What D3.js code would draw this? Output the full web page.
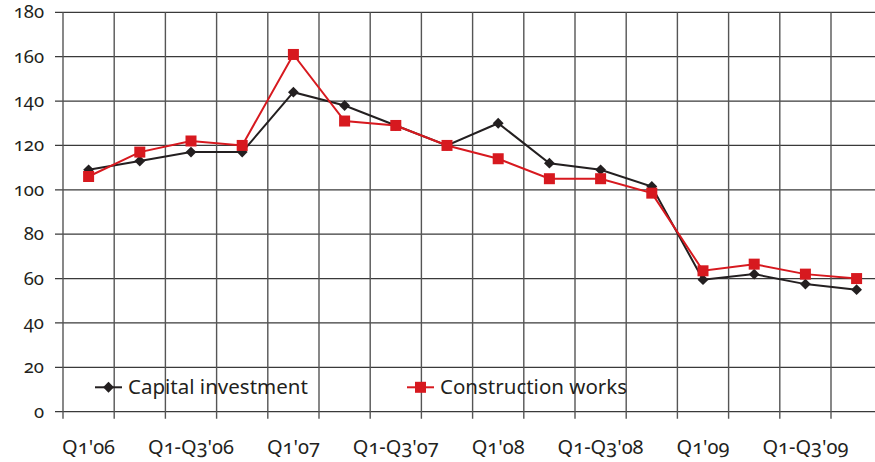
<!DOCTYPE html>
<html>
<head>
<meta charset="UTF-8">
<title>Capital investment vs construction works</title>
<script src="https://cdn.jsdelivr.net/npm/d3@7"></script>
<style>
  body { margin: 0; background: #fff; }
  text { font-family: "Noto Sans", sans-serif; font-variant-numeric: oldstyle-nums; fill: #231f20; }
</style>
</head>
<body>
<svg id="chart" width="875" height="462"></svg>
<script>
// quarters (cumulative), Q1'06 ... Q1-Q4'09
const categories = [
  "Q1'06", "Q1-Q2'06", "Q1-Q3'06", "Q1-Q4'06",
  "Q1'07", "Q1-Q2'07", "Q1-Q3'07", "Q1-Q4'07",
  "Q1'08", "Q1-Q2'08", "Q1-Q3'08", "Q1-Q4'08",
  "Q1'09", "Q1-Q2'09", "Q1-Q3'09", "Q1-Q4'09"
];
const capitalInvestment = [109, 113, 117, 117, 144, 138, 129, 120, 130, 112, 109, 101.5, 59.5, 62, 57.5, 55];
const constructionWorks = [106, 117, 122, 120, 161, 131, 129, 120, 114, 105, 105, 98.5, 63.5, 66.5, 62, 60];
const yTicks = [0, 20, 40, 60, 80, 100, 120, 140, 160, 180];
const xLabelled = ["Q1'06", "Q1-Q3'06", "Q1'07", "Q1-Q3'07", "Q1'08", "Q1-Q3'08", "Q1'09", "Q1-Q3'09"];

const svg = d3.select("#chart");
const plotLeft = 63, plotTop = 12.3, plotBottom = 411.7, bandW = 51.2;

const x = d3.scaleBand()
  .domain(categories)
  .range([plotLeft, plotLeft + bandW * categories.length])
  .padding(0);
const y = d3.scaleLinear().domain([0, 180]).range([plotBottom, plotTop]);
const cx = d => x(d) + x.bandwidth() / 2;

// horizontal grid + little ticks on the left
svg.append("g").selectAll("line").data(yTicks).join("line")
  .attr("x1", plotLeft - 8).attr("x2", 875)
  .attr("y1", d => y(d)).attr("y2", d => y(d))
  .attr("stroke", "#3a3a3a").attr("stroke-width", 1.3);

// vertical grid at band edges, running past the axis as ticks
const edges = categories.map(c => x(c)).concat([x.range()[1]]);
svg.append("g").selectAll("line").data(edges).join("line")
  .attr("x1", d => d).attr("x2", d => d)
  .attr("y1", plotTop).attr("y2", plotBottom + 7)
  .attr("stroke", "#555").attr("stroke-width", 1.4);

// y labels
svg.append("g").selectAll("text").data(yTicks).join("text")
  .attr("x", 44).attr("y", d => y(d) + 6)
  .attr("text-anchor", "end")
  .attr("font-size", 18.5)
  .text(d => d);

// x labels (every other quarter)
svg.append("g").selectAll("text").data(xLabelled).join("text")
  .attr("x", d => cx(d)).attr("y", 454)
  .attr("text-anchor", "middle")
  .attr("font-size", 20)
  .text(d => d);

const line = d3.line().x((d, i) => cx(categories[i])).y(d => y(d));

// capital investment (black diamonds)
svg.append("path").datum(capitalInvestment)
  .attr("d", line).attr("fill", "none")
  .attr("stroke", "#231f20").attr("stroke-width", 2);
svg.append("g").selectAll("path").data(capitalInvestment).join("path")
  .attr("d", d3.symbol(d3.symbolDiamond2, 75))
  .attr("transform", (d, i) => `translate(${cx(categories[i])},${y(d)})`)
  .attr("fill", "#231f20");

// construction works (red squares)
svg.append("path").datum(constructionWorks)
  .attr("d", line).attr("fill", "none")
  .attr("stroke", "#d7191f").attr("stroke-width", 2);
svg.append("g").selectAll("rect").data(constructionWorks).join("rect")
  .attr("x", (d, i) => cx(categories[i]) - 5.5)
  .attr("y", d => y(d) - 5.5)
  .attr("width", 11).attr("height", 11)
  .attr("fill", "#d7191f");

// legend
const legend = svg.append("g");
const ly = y(11);
legend.append("line").attr("x1", 95).attr("x2", 122).attr("y1", ly).attr("y2", ly)
  .attr("stroke", "#231f20").attr("stroke-width", 2);
legend.append("path").attr("d", d3.symbol(d3.symbolDiamond2, 75))
  .attr("transform", `translate(108.5,${ly})`).attr("fill", "#231f20");
legend.append("text").attr("x", 128).attr("y", ly + 7).attr("font-size", 20.5).text("Capital investment");

legend.append("line").attr("x1", 407).attr("x2", 434).attr("y1", ly).attr("y2", ly)
  .attr("stroke", "#d7191f").attr("stroke-width", 2);
legend.append("rect").attr("x", 420.5 - 5.5).attr("y", ly - 5.5)
  .attr("width", 11).attr("height", 11).attr("fill", "#d7191f");
legend.append("text").attr("x", 440).attr("y", ly + 7).attr("font-size", 20.5).text("Construction works");
</script>
</body>
</html>
